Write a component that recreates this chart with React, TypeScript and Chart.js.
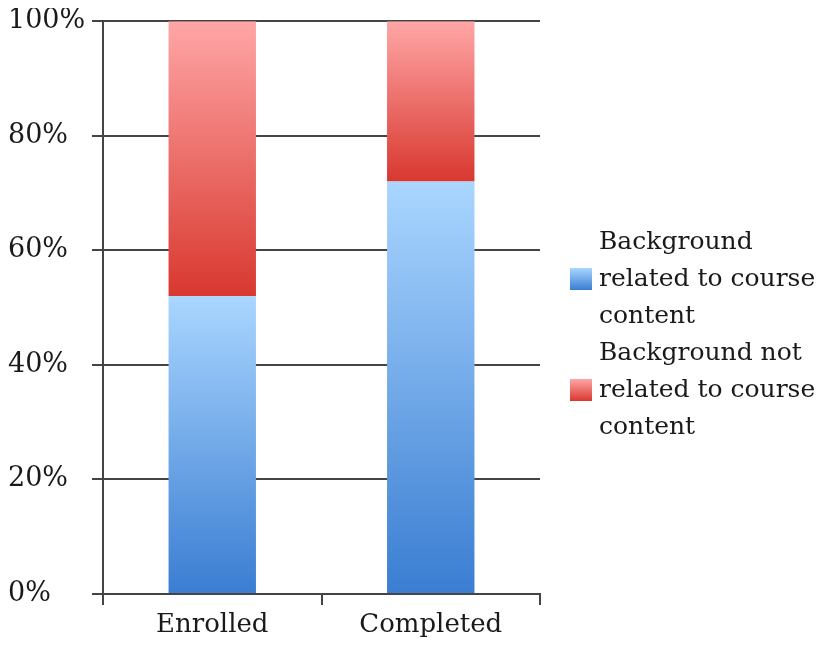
import React, { useEffect, useRef } from "react";
import { Chart, registerables } from "chart.js";

Chart.register(...registerables);

const categories = ["Enrolled", "Completed"];
const relatedValues = [52, 72];
const notRelatedValues = [48, 28];
const seriesLabels = [
  ["Background", "related to course", "content"],
  ["Background not", "related to course", "content"],
];
const yTicks = [0, 20, 40, 60, 80, 100];

const FONT = "'DejaVu Serif', serif";
const blueTop = "#aad6ff";
const blueBottom = "#3a7dd2";
const redTop = "#ffa6a6";
const redBottom = "#d8382f";

function barGradient(ctx: any, top: string, bottom: string, isUpper: boolean) {
  const chart = ctx.chart;
  const y = chart.scales?.y;
  if (!y || ctx.dataIndex === undefined) return bottom;
  const i = ctx.dataIndex;
  const start = isUpper ? relatedValues[i] : 0;
  const end = isUpper ? relatedValues[i] + notRelatedValues[i] : relatedValues[i];
  const yTop = y.getPixelForValue(end);
  const yBot = y.getPixelForValue(start);
  if (!isFinite(yTop) || !isFinite(yBot) || yTop === yBot) return bottom;
  const g = chart.ctx.createLinearGradient(0, yTop, 0, yBot);
  g.addColorStop(0, top);
  g.addColorStop(1, bottom);
  return g;
}

const legendPlugin = {
  id: "sideLegend",
  afterDraw(chart: any) {
    const ctx = chart.ctx;
    ctx.save();
    ctx.font = `25px ${FONT}`;
    ctx.fillStyle = "#1a1a1a";
    ctx.textBaseline = "middle";
    const textX = 599;
    const boxX = 570;
    const lineH = 37;
    let y = 242;
    const colors = [
      [blueTop, blueBottom],
      [redTop, redBottom],
    ];
    seriesLabels.forEach((lines, si) => {
      const boxCenter = y + lineH;
      const g = ctx.createLinearGradient(0, boxCenter - 11, 0, boxCenter + 11);
      g.addColorStop(0, colors[si][0]);
      g.addColorStop(1, colors[si][1]);
      ctx.fillStyle = g;
      ctx.fillRect(boxX, boxCenter - 11, 22, 22);
      ctx.fillStyle = "#1a1a1a";
      lines.forEach((line, li) => {
        ctx.fillText(line, textX, y + li * lineH);
      });
      y += lines.length * lineH;
    });
    ctx.restore();
  },
};

export default function App() {
  const ref = useRef<HTMLCanvasElement | null>(null);
  useEffect(() => {
    if (!ref.current) return;
    const chart = new Chart(ref.current, {
      type: "bar",
      data: {
        labels: categories,
        datasets: [
          {
            label: seriesLabels[0].join(" "),
            data: relatedValues,
            backgroundColor: (c: any) => barGradient(c, blueTop, blueBottom, false),
            borderWidth: 0,
            barPercentage: 0.4,
            categoryPercentage: 1,
          },
          {
            label: seriesLabels[1].join(" "),
            data: notRelatedValues,
            backgroundColor: (c: any) => barGradient(c, redTop, redBottom, true),
            borderWidth: 0,
            barPercentage: 0.4,
            categoryPercentage: 1,
          },
        ],
      },
      options: {
        responsive: false,
        animation: false,
        layout: { padding: { top: 0, right: 278, left: 8, bottom: 0 } },
        plugins: {
          legend: { display: false },
          tooltip: { enabled: false },
        },
        scales: {
          x: {
            stacked: true,
            grid: {
              display: true,
              drawOnChartArea: false,
              drawTicks: true,
              tickLength: 11,
              offset: true,
              color: "#444",
              lineWidth: 2,
            },
            border: { display: true, color: "#444", width: 2 },
            ticks: {
              color: "#1a1a1a",
              font: { family: FONT, size: 26 },
              padding: 5,
            },
            afterFit: (s: any) => {
              s.height = 46;
            },
          },
          y: {
            stacked: true,
            min: 0,
            max: 100,
            afterBuildTicks: (s: any) => {
              s.ticks = yTicks.map((v) => ({ value: v }));
            },
            grid: {
              color: "#444",
              lineWidth: 2,
              tickLength: 11,
              drawTicks: true,
            },
            border: { display: true, color: "#444", width: 2 },
            ticks: {
              color: "#1a1a1a",
              font: { family: FONT, size: 27 },
              padding: 5,
              crossAlign: "far",
              callback: (v: any) => `${v}%`,
            },
            afterFit: (s: any) => {
              s.width = 95;
            },
          },
        },
      },
      plugins: [legendPlugin],
    });
    return () => chart.destroy();
  }, []);
  return (
    <div style={{ width: 818, height: 640, marginTop: -8, marginLeft: -8 }}>
      <canvas ref={ref} width={818} height={640} style={{ display: "block" }} />
    </div>
  );
}
